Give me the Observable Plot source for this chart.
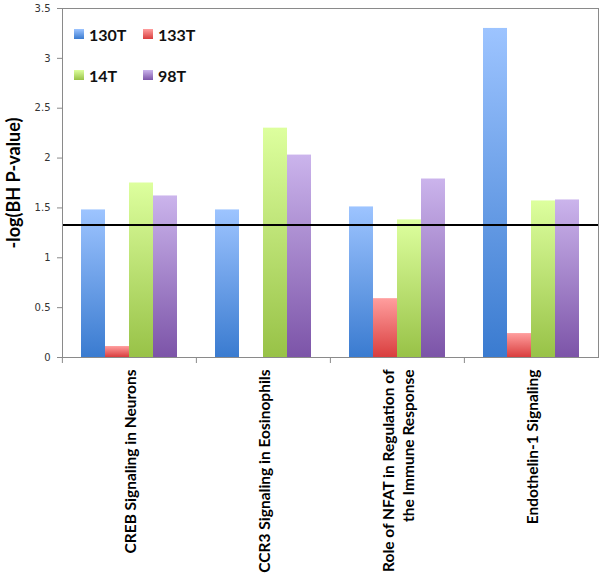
<!DOCTYPE html>
<html><head><meta charset="utf-8">
<script src="https://cdn.jsdelivr.net/npm/d3@7"></script>
<script src="https://cdn.jsdelivr.net/npm/@observablehq/plot@0.6"></script>
<style>
body{margin:0;background:#fff;}
#wrap{position:relative;width:600px;height:585px;}
#legend{position:absolute;left:74px;top:22px;display:grid;grid-template-columns:69px 69px;grid-auto-rows:41px;font-family:Lato,sans-serif;font-weight:bold;font-size:16px;color:#111;}
#legend .item{display:flex;align-items:center;height:24px;}
#legend .sw{width:10px;height:10px;margin-right:5px;}
</style></head><body>
<svg width="0" height="0" style="position:absolute"><defs id="defs"></defs></svg>
<div id="wrap"><div id="legend"></div></div>
<script>
const categories = ["CREB Signaling in Neurons", "CCR3 Signaling in Eosinophils", "Role of NFAT in Regulation of\nthe Immune Response", "Endothelin-1 Signaling"];
const series = ["130T", "133T", "14T", "98T"];
const v130T = [1.48, 1.48, 1.51, 3.30];
const v133T = [0.11, 0.00, 0.59, 0.24];
const v14T = [1.75, 2.30, 1.38, 1.57];
const v98T = [1.62, 2.03, 1.79, 1.58];
const threshold = 1.33;
const yTicks = [0, 0.5, 1, 1.5, 2, 2.5, 3, 3.5];
const yTitle = "-log(BH P-value)";
const gradTop = ["#9dc4ff", "#ff9e9e", "#ddff9e", "#cbb4ec"];
const gradBottom = ["#3a7bd0", "#d93e3e", "#98c247", "#7c54a8"];

const values = [v130T, v133T, v14T, v98T];
const table = [];
series.forEach((s, j) => categories.forEach((c, i) => table.push({category: c, series: s, value: values[j][i]})));

const defs = d3.select("#defs");
series.forEach((s, j) => {
  const g = defs.append("linearGradient").attr("id", "g" + j).attr("x1", 0).attr("y1", 0).attr("x2", 0).attr("y2", 1);
  g.append("stop").attr("offset", "0%").attr("stop-color", gradTop[j]);
  g.append("stop").attr("offset", "100%").attr("stop-color", gradBottom[j]);
});

const W = 600, H = 585, mL = 61, mR = 2, mT = 8, mB = 228;
const step = (W - mL - mR) / categories.length;

const plot = Plot.plot({
  width: W, height: H,
  marginLeft: mL, marginRight: mR, marginTop: mT, marginBottom: mB,
  style: {fontFamily: "Lato, sans-serif", background: "white", color: "#000"},
  fx: {domain: categories, paddingInner: 0, paddingOuter: 0},
  x: {domain: series, paddingInner: 0, paddingOuter: 0.735, axis: null},
  y: {domain: [0, 3.5]},
  marks: [
    ...series.map((s, j) => Plot.barY(table.filter(d => d.series === s), {fx: "category", x: "series", y: "value", fill: `url(#g${j})`})),
    Plot.ruleY([threshold], {stroke: "#000", strokeWidth: 2}),
    Plot.frame({facet: "super", stroke: "#8a8a8a"}),
    Plot.axisY({ticks: yTicks, tickFormat: d => String(d), tickSize: 5, tickPadding: 7, stroke: "#8a8a8a", fontFamily: "DejaVu Sans", fontSize: 10, fill: "#333", label: null}),
    Plot.axisY({ticks: [], tickSize: 0, label: yTitle, labelAnchor: "center", labelArrow: "none", labelOffset: 55, fontFamily: "Lato", fontSize: 18, fontWeight: "bold", fill: "#000"}),
    Plot.axisFx({anchor: "bottom", tickSize: 6, dx: -step / 2, tickFormat: () => "", stroke: "#8a8a8a", label: null}),
    Plot.axisFx({anchor: "bottom", tickSize: 0, tickRotate: -90, tickPadding: 12, fontSize: 15.5, fontWeight: "bold", lineHeight: 1.3, fill: "#000", label: null})
  ]
});
document.getElementById("wrap").prepend(plot);

const legend = d3.select("#legend");
series.forEach((s, j) => {
  const it = legend.append("div").attr("class", "item");
  it.append("div").attr("class", "sw").style("background", `linear-gradient(${gradTop[j]}, ${gradBottom[j]})`);
  it.append("span").text(s);
});
</script>
</body></html>
